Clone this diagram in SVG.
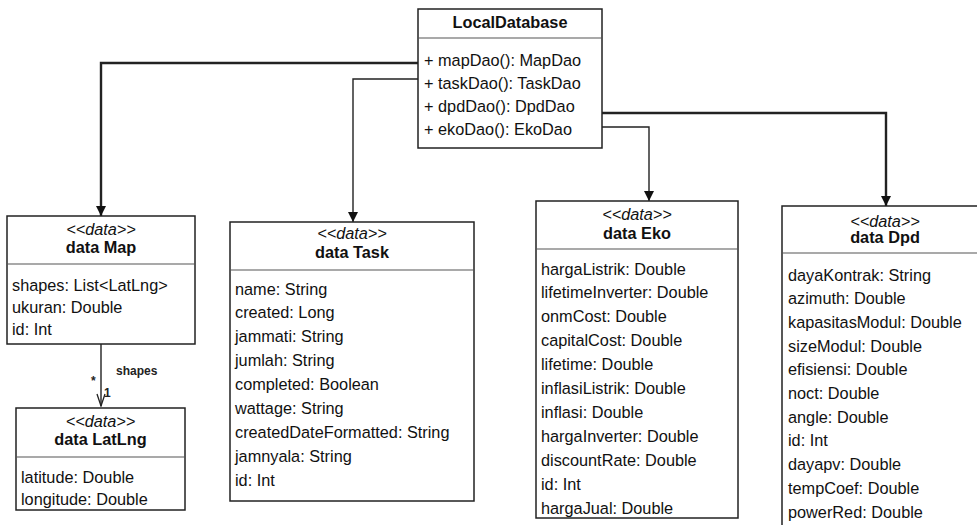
<svg xmlns="http://www.w3.org/2000/svg" width="977" height="525" viewBox="0 0 977 525">
  <style>
    .box { fill: #ffffff; stroke: #222222; stroke-width: 1.5; }
    .div { stroke: #555555; stroke-width: 1.2; }
    .t { font-family: "Liberation Sans", Arial, sans-serif; font-size: 16.3px; fill: #111111; }
    .st { font-family: "Liberation Sans", Arial, sans-serif; font-size: 16.3px; font-style: italic; fill: #111111; text-anchor: middle; }
    .ti { font-family: "Liberation Sans", Arial, sans-serif; font-size: 16.3px; font-weight: bold; fill: #111111; text-anchor: middle; }
    .lbl { font-family: "Liberation Sans", Arial, sans-serif; font-size: 12px; font-weight: bold; fill: #222222; }
    .thick { fill: none; stroke: #222222; stroke-width: 2.4; }
    .thin { fill: none; stroke: #222222; stroke-width: 1.4; }
  </style>
  <defs>
    <marker id="arrow" viewBox="0 0 10 10" refX="10" refY="5" markerWidth="10" markerHeight="10" markerUnits="userSpaceOnUse" orient="auto">
      <path d="M0,0 L10,5 L0,10 z" fill="#111111"/>
    </marker>
    <marker id="open" viewBox="0 0 14 10" refX="13" refY="5" markerWidth="14" markerHeight="10" markerUnits="userSpaceOnUse" orient="auto">
      <path d="M1,1 L13,5 L1,9" fill="none" stroke="#222222" stroke-width="1.3"/>
    </marker>
  </defs>

  <rect width="977" height="525" fill="#ffffff"/>

  <!-- connectors -->
  <g id="connectors">
    <path class="thick" d="M418,63 H101 V216" marker-end="url(#arrow)"/>
    <path class="thin" d="M418,79 H353 V222" marker-end="url(#arrow)"/>
    <path class="thick" d="M602,113 H886 V206" marker-end="url(#arrow)"/>
    <path class="thin" d="M602,127 H649 V201" marker-end="url(#arrow)"/>
    <path class="thin" d="M101,344 V406" marker-end="url(#open)"/>
    <text class="lbl" x="116" y="375">shapes</text>
    <text class="lbl" x="91" y="385">*</text>
    <text class="lbl" x="104" y="397">1</text>
  </g>

  <!-- LocalDatabase -->
  <g id="LocalDatabase">
    <rect class="box" x="418" y="9" width="184" height="139"/>
    <line class="div" x1="418" y1="38" x2="602" y2="38"/>
    <text class="ti" x="510" y="28">LocalDatabase</text>
    <text class="t" x="424" y="66">+ mapDao(): MapDao</text>
    <text class="t" x="424" y="89">+ taskDao(): TaskDao</text>
    <text class="t" x="424" y="112">+ dpdDao(): DpdDao</text>
    <text class="t" x="424" y="135">+ ekoDao(): EkoDao</text>
  </g>

  <!-- data Map -->
  <g id="Map">
    <rect class="box" x="7" y="216" width="188" height="128"/>
    <line class="div" x1="7" y1="264" x2="195" y2="264"/>
    <text class="st" x="101" y="234.5">&lt;&lt;data&gt;&gt;</text>
    <text class="ti" x="101" y="252.5">data Map</text>
    <text class="t" x="12" y="291">shapes: List&lt;LatLng&gt;</text>
    <text class="t" x="12" y="313">ukuran: Double</text>
    <text class="t" x="12" y="335">id: Int</text>
  </g>

  <!-- data LatLng -->
  <g id="LatLng">
    <rect class="box" x="16" y="408" width="169" height="102"/>
    <line class="div" x1="16" y1="457" x2="185" y2="457"/>
    <text class="st" x="100.5" y="426.5">&lt;&lt;data&gt;&gt;</text>
    <text class="ti" x="100.5" y="444.5">data LatLng</text>
    <text class="t" x="21" y="482.5">latitude: Double</text>
    <text class="t" x="21" y="504.5">longitude: Double</text>
  </g>

  <!-- data Task -->
  <g id="Task">
    <rect class="box" x="230" y="222" width="244" height="279"/>
    <line class="div" x1="230" y1="270" x2="474" y2="270"/>
    <text class="st" x="352" y="239">&lt;&lt;data&gt;&gt;</text>
    <text class="ti" x="352" y="257.5">data Task</text>
    <text class="t" x="235" y="294.5">name: String</text>
    <text class="t" x="235" y="318.4">created: Long</text>
    <text class="t" x="235" y="342.3">jammati: String</text>
    <text class="t" x="235" y="366.2">jumlah: String</text>
    <text class="t" x="235" y="390.1">completed: Boolean</text>
    <text class="t" x="235" y="414">wattage: String</text>
    <text class="t" x="235" y="437.9">createdDateFormatted: String</text>
    <text class="t" x="235" y="461.8">jamnyala: String</text>
    <text class="t" x="235" y="485.7">id: Int</text>
  </g>

  <!-- data Eko -->
  <g id="Eko">
    <rect class="box" x="536" y="201" width="202" height="317"/>
    <line class="div" x1="536" y1="249" x2="738" y2="249"/>
    <text class="st" x="637" y="220">&lt;&lt;data&gt;&gt;</text>
    <text class="ti" x="637" y="238.5">data Eko</text>
    <text class="t" x="541" y="274.5">hargaListrik: Double</text>
    <text class="t" x="541" y="298.4">lifetimeInverter: Double</text>
    <text class="t" x="541" y="322.3">onmCost: Double</text>
    <text class="t" x="541" y="346.2">capitalCost: Double</text>
    <text class="t" x="541" y="370.1">lifetime: Double</text>
    <text class="t" x="541" y="394">inflasiListrik: Double</text>
    <text class="t" x="541" y="417.9">inflasi: Double</text>
    <text class="t" x="541" y="441.8">hargaInverter: Double</text>
    <text class="t" x="541" y="465.7">discountRate: Double</text>
    <text class="t" x="541" y="489.6">id: Int</text>
    <text class="t" x="541" y="513.5">hargaJual: Double</text>
  </g>

  <!-- data Dpd -->
  <g id="Dpd">
    <rect class="box" x="782" y="206" width="206" height="322"/>
    <line class="div" x1="782" y1="253" x2="988" y2="253"/>
    <text class="st" x="885" y="226.5">&lt;&lt;data&gt;&gt;</text>
    <text class="ti" x="885" y="243">data Dpd</text>
    <text class="t" x="788" y="280.5">dayaKontrak: String</text>
    <text class="t" x="788" y="304.2">azimuth: Double</text>
    <text class="t" x="788" y="327.9">kapasitasModul: Double</text>
    <text class="t" x="788" y="351.6">sizeModul: Double</text>
    <text class="t" x="788" y="375.3">efisiensi: Double</text>
    <text class="t" x="788" y="399">noct: Double</text>
    <text class="t" x="788" y="422.7">angle: Double</text>
    <text class="t" x="788" y="446.4">id: Int</text>
    <text class="t" x="788" y="470.1">dayapv: Double</text>
    <text class="t" x="788" y="493.8">tempCoef: Double</text>
    <text class="t" x="788" y="517.5">powerRed: Double</text>
  </g>
</svg>
